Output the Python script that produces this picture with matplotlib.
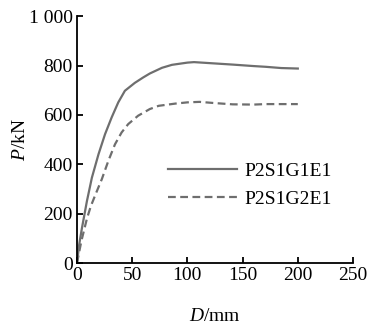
import matplotlib
matplotlib.use("Agg")
import matplotlib.pyplot as plt

# load-displacement curves
d_g1 = [0, 2, 4.5, 9, 13.5, 19.5, 25.4, 31.4, 37.4, 43.4, 52.4, 60, 66, 77, 86, 100, 106, 120, 141, 160, 171, 185, 200]
p_g1 = [0, 75, 142, 251, 346, 441, 522, 590, 651, 698, 730, 752, 768, 791, 803, 812, 814, 810, 804, 798, 795, 790, 788]
d_g2 = [0, 4, 9, 12.5, 16.5, 22.5, 28.4, 34.4, 40.4, 46.4, 55.4, 66, 74, 89, 100, 111, 125, 141, 160, 171, 185, 200]
p_g2 = [0, 90, 180, 230, 275, 340, 414, 481, 529, 563, 597, 624, 637, 646, 651, 653, 648, 643, 642, 644, 644, 644]
names = ["P2S1G1E1", "P2S1G2E1"]

x_ticks = [0, 50, 100, 150, 200, 250]
y_ticks = [0, 200, 400, 600, 800, 1000]
y_tick_labels = ["0", "200", "400", "600", "800", "1 000"]

plt.rcParams["font.family"] = ["Liberation Serif", "DejaVu Serif"]
plt.rcParams["mathtext.fontset"] = "custom"
plt.rcParams["mathtext.rm"] = "Liberation Serif"
plt.rcParams["mathtext.it"] = "Liberation Serif:italic"
fs = 14

fig = plt.figure(figsize=(3.71, 3.24), dpi=100)
ax = fig.add_axes([0.2075, 0.188, 0.744, 0.762])

grey = "#6e6e6e"
ax.plot(d_g1, p_g1, color=grey, lw=1.6, label=names[0])
ax.plot(d_g2, p_g2, color=grey, lw=1.6, ls=(0, (3.5, 2)), label=names[1])

ax.set_xlim(0, 250)
ax.set_ylim(0, 1000)
ax.set_xticks(x_ticks)
ax.set_yticks(y_ticks)
ax.set_yticklabels(y_tick_labels)
ax.tick_params(direction="in", length=4, width=1.3, labelsize=fs, pad=3)
for s in ["top", "right"]:
    ax.spines[s].set_visible(False)
for s in ["left", "bottom"]:
    ax.spines[s].set_linewidth(1.3)

ax.set_xlabel("$D$/mm", fontsize=fs, labelpad=17)
ax.set_ylabel("$P$/kN", fontsize=fs, labelpad=0)

ax.legend(loc="center left", bbox_to_anchor=(0.33, 0.316), frameon=False,
          handlelength=3.55, handletextpad=0.4, labelspacing=0.55,
          borderpad=0, borderaxespad=0, fontsize=fs)

fig.savefig("out.png", dpi=100)
